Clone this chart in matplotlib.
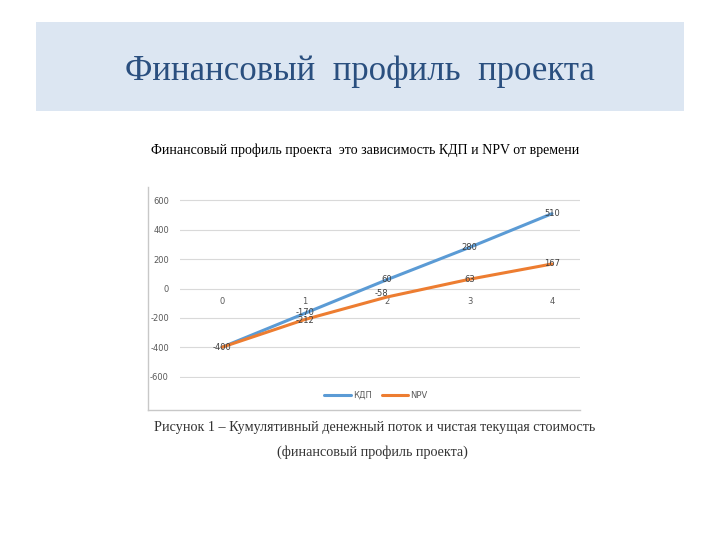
import matplotlib.pyplot as plt
from matplotlib.patches import Rectangle
from matplotlib.lines import Line2D

years = [0, 1, 2, 3, 4]
kdp = [-400, -170, 60, 280, 510]
npv = [-400, -212, -58, 63, 167]
y_ticks = [-600, -400, -200, 0, 200, 400, 600]

plt.rcParams['axes.unicode_minus'] = False
serif = ['Liberation Serif', 'DejaVu Serif']

fig = plt.figure(figsize=(7.2, 5.4), dpi=100)

# slide header
fig.patches.append(Rectangle((0.05, 0.7944), 0.9, 0.1649, transform=fig.transFigure,
                             facecolor='#dce6f2', edgecolor='none', zorder=0))
fig.text(0.5, 0.868, 'Финансовый  профиль  проекта', ha='center', va='center',
         fontsize=25, color='#2a4f7f', family=serif)

fig.text(0.507, 0.722, 'Финансовый профиль проекта  это зависимость КДП и NPV от времени',
         ha='center', va='center', fontsize=10, family=serif)
fig.text(0.52, 0.209, 'Рисунок 1 – Кумулятивный денежный поток и чистая текущая стоимость',
         ha='center', va='center', fontsize=10.2, family=serif, color='#333333')
fig.text(0.517, 0.163, '(финансовый профиль проекта)',
         ha='center', va='center', fontsize=10.2, family=serif, color='#333333')

# chart frame (left and bottom edges)
fig.lines.append(Line2D([148 / 720, 148 / 720], [1 - 187 / 540, 1 - 410 / 540],
                        transform=fig.transFigure, color='#c8c8c8', lw=1))
fig.lines.append(Line2D([148 / 720, 580 / 720], [1 - 410 / 540, 1 - 410 / 540],
                        transform=fig.transFigure, color='#c8c8c8', lw=1))

ax = fig.add_axes([180 / 720, 1 - 378 / 540, 400 / 720, 179 / 540])
ax.plot(years, kdp, color='#5b9bd5', lw=2.2, label='КДП', solid_capstyle='round')
ax.plot(years, npv, color='#ed7d31', lw=2.2, label='NPV', solid_capstyle='round')

# small nudges so labels near the category axis stay readable
kdp_dy = {1: 8}
npv_dy = {1: -6, 2: 22}
npv_dx = {2: -0.07}
for x, v in zip(years, kdp):
    ax.text(x, v + kdp_dy.get(x, 0), str(v), ha='center', va='center',
            fontsize=6, color='#404040')
for x, v in zip(years[1:], npv[1:]):
    ax.text(x + npv_dx.get(x, 0), v + npv_dy.get(x, 0), str(v), ha='center',
            va='center', fontsize=6, color='#404040')

ax.set_xlim(-0.51, 4.34)
ax.set_ylim(-610, 610)
ax.set_yticks(y_ticks)
ax.set_xticks(years)
ax.yaxis.grid(True, color='#d9d9d9', lw=0.8)
ax.set_axisbelow(True)
for s in ax.spines.values():
    s.set_visible(False)
ax.spines['bottom'].set_position(('data', 0))
ax.tick_params(axis='both', length=0, labelsize=6, labelcolor='#595959')
ax.tick_params(axis='y', pad=8)
ax.tick_params(axis='x', pad=6)
ax.patch.set_alpha(0)

fig.legend(loc='center', bbox_to_anchor=(0.522, 1 - 395 / 540), ncol=2, frameon=False,
           fontsize=6, handlelength=3.2, columnspacing=1.2, handletextpad=0.2,
           labelcolor='#595959')

fig.savefig('out.png', dpi=100)
